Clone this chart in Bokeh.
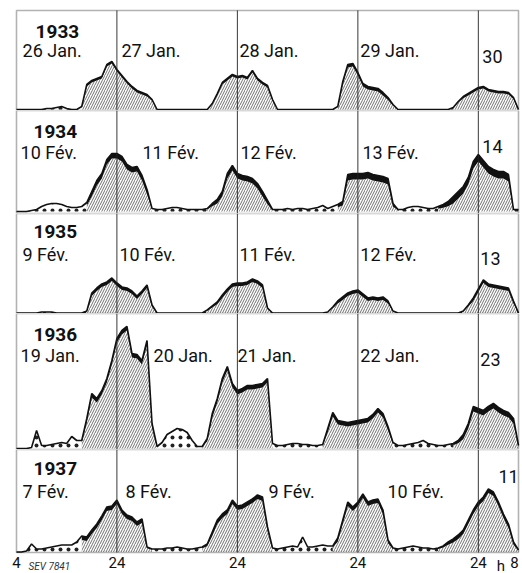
import numpy as np
from bokeh.plotting import figure
from bokeh.layouts import column
from bokeh.models import Range1d, Label, BoxAnnotation
from bokeh.core.properties import value
from bokeh.embed import file_html
from bokeh.resources import INLINE

# ---------------- data ----------------
hours = list(range(4, 105))  # 4h of day 1 .. 8h of day 5

load_1933 = [0, 0, 0, 0, 0, 0,
             1, 1, 2, 3, 1, 0, 0, 3, 25, 29, 31, 33, 45, 48, 40, 34, 28, 23, 19, 17, 15, 10, 0,
             0, 0, 0, 0, 0, 0, 0, 0, 0,
             0, 6, 16, 27, 31, 35, 33, 34, 32, 39, 31, 27, 24, 10, 0,
             0, 0, 0, 0, 0, 0, 0, 0, 0, 0, 0,
             3, 28, 45, 46, 37, 26, 23, 22, 21, 17, 12, 5, 0,
             0, 0, 0, 0, 0, 0, 0, 0, 0, 0,
             2, 8, 13, 16, 19, 22, 23, 20, 19, 18, 18, 17, 12, 0]

load_1934 = [0, 0, 0, 1, 2, 5, 7, 8, 8, 7, 5, 4, 4, 5, 9, 20, 31, 38, 52, 58, 58, 55, 47, 44, 45, 36, 22, 3,
             2, 2, 3, 4, 4, 3, 2, 2, 2, 2, 3, 8, 12, 20, 38, 46, 38, 36, 35, 33, 28, 20, 11, 2,
             2, 2, 3, 2, 3, 3, 2, 3, 4, 6, 3, 5, 7, 10, 37, 38, 38, 38, 39, 37, 36, 35, 33, 8, 2,
             2, 4, 5, 5, 4, 3, 3, 5, 7, 10, 15, 20, 25, 34, 50, 57, 51, 45, 42, 40, 40, 37, 2, 2]

load_1935 = [0, 0, 0, 0, 0, 1, 1, 1, 0, 0, 0, 0, 0, 0, 2, 20, 25, 29, 31, 35, 30, 26, 25, 22, 17, 22, 28, 8, 0,
             0, 0, 0, 0, 0, 0, 0, 0, 0,
             3, 7, 11, 18, 24, 29, 30, 30, 31, 34, 32, 28, 5, 0,
             0, 0, 0, 0, 0, 0, 0, 0, 0, 0,
             1, 6, 12, 16, 20, 22, 23, 19, 15, 16, 15, 16, 12, 2, 0,
             0, 0, 0, 0, 0, 0, 0, 0, 0, 0, 0, 0,
             2, 8, 15, 24, 33, 29, 28, 27, 26, 25, 12, 0]

load_1936 = [0, 0, 0, 1, 18, 3, 3, 4, 5, 6, 5, 12, 8, 8, 30, 55, 50, 58, 70, 88, 110, 118, 122, 95, 94, 88, 108, 25,
             2, 6, 14, 17, 20, 19, 16, 8, 2, 2, 10, 35, 50, 70, 82, 65, 58, 60, 63, 63, 64, 65, 70, 5,
             3, 3, 4, 5, 5, 4, 4, 3, 3, 4, 20, 36, 28, 27, 26, 27, 28, 29, 30, 34, 40, 35, 22, 6,
             3, 3, 4, 5, 6, 8, 5, 4, 3, 3, 4, 5, 8, 14, 25, 42, 40, 38, 42, 45, 41, 38, 36, 30, 3]

load_1937 = [0, 0, 1, 8, 3, 3, 4, 5, 6, 7, 7, 7, 10, 16, 15, 22, 28, 36, 45, 46, 52, 42, 37, 35, 30, 33, 5,
             3, 3, 3, 4, 4, 5, 4, 3, 3, 4, 5, 8, 20, 32, 38, 42, 52, 46, 47, 50, 53, 57, 55, 25, 4,
             3, 4, 5, 6, 5, 15, 5, 5, 6, 7, 6, 6, 14, 32, 50, 45, 50, 58, 50, 52, 53, 42, 12, 4,
             3, 4, 5, 6, 5, 4, 4, 3, 4, 6, 10, 13, 17, 22, 32, 42, 50, 55, 63, 60, 50, 38, 28, 10, 2]

# night-load periods (hatched) and thickness of the dark top band
humps_1933 = [(17, 32), (42, 56), (68, 80), (91, 104)]
humps_1934 = [(18, 31), (42, 55), (68, 80), (88, 103)]
humps_1935 = [(18, 32), (42, 55), (66, 80), (93, 104)]
humps_1936 = [(17, 32), (41, 55), (65, 79), (91, 104)]
humps_1937 = [(17, 31), (41, 55), (67, 79), (88, 104)]
band_1933 = [2, 2, 3, 2]
band_1934 = [5, 5, 6, 7]
band_1935 = [3, 3, 3, 3]
band_1936 = [4, 4, 4, 5]
band_1937 = [4, 4, 4, 4]

years = ["1933", "1934", "1935", "1936", "1937"]
day_labels = {
    "1933": ["26 Jan.", "27 Jan.", "28 Jan.", "29 Jan.", "30"],
    "1934": ["10 Fév.", "11 Fév.", "12 Fév.", "13 Fév.", "14"],
    "1935": ["9 Fév.", "10 Fév.", "11 Fév.", "12 Fév.", "13"],
    "1936": ["19 Jan.", "20 Jan.", "21 Jan.", "22 Jan.", "23"],
    "1937": ["7 Fév.", "8 Fév.", "9 Fév.", "10 Fév.", "11"],
}
midnights = [24, 48, 72, 96]
tick_hours = [4, 24, 48, 72, 96, 100.5, 103.2]
tick_labels = ["4", "24", "24", "24", "24", "h", "8"]
note_text = "SEV 7841"

# ---------------- layout (positions / styling) ----------------
panels = [
    ("1933", load_1933, humps_1933, band_1933, 100, (-1, 99), (7.8, 72),
     [(5.2, 49), (24.9, 49), (48.4, 49), (72.5, 49), (96.8, 47)]),
    ("1934", load_1934, humps_1934, band_1934, 103, (-2, 101), (7.4, 74),
     [(4.8, 49), (29.1, 49), (48.6, 49), (72.9, 49), (96.8, 59)]),
    ("1935", load_1935, humps_1935, band_1935, 100, (-0.5, 99.5), (7.4, 75),
     [(5.2, 48), (24.5, 48), (48.4, 48), (72.5, 48), (96.4, 48)]),
    ("1936", load_1936, humps_1936, band_1936, 136, (-1, 135), (7.4, 108),
     [(4.8, 83), (31.3, 83), (48.0, 83), (72.5, 83), (96.4, 83)]),
    ("1937", load_1937, humps_1937, band_1937, 103, (-0.5, 102.5), (7.4, 77),
     [(5.2, 50), (25.7, 50), (54.2, 50), (77.9, 50), (100.0, 69)]),
]

FONT = "Roboto"
PX_PER_H = 502 / 100.0
# every frame spans the full canvas width; the panel box runs from 4 h to 104 h
x_range = Range1d(4 - 16 / PX_PER_H, 104 + 4 / PX_PER_H)
x = np.array(hours, dtype=float)


def runs(mask):
    out, start = [], None
    for i, m in enumerate(mask):
        if m and start is None:
            start = i
        if not m and start is not None:
            out.append((start, i - 1))
            start = None
    if start is not None:
        out.append((start, len(mask) - 1))
    return out


figs = []
for k, (yr, load, humps, band, fh, yr_rng, ypos, dpos) in enumerate(panels):
    last = k == len(panels) - 1
    extra_top = 10 if k == 0 else 0
    extra_bottom = 21 if last else 0
    y0, y1 = yr_rng
    p = figure(width=522, height=fh + extra_top + extra_bottom,
               x_range=x_range, y_range=Range1d(y0 - extra_bottom, y1 + extra_top),
               x_axis_type=None, y_axis_type=None,
               toolbar_location=None, output_backend="svg", min_border=0)
    p.min_border_left = p.min_border_right = p.min_border_top = p.min_border_bottom = 0
    p.outline_line_color = None
    p.background_fill_color = "white"
    p.border_fill_color = "white"
    p.add_layout(BoxAnnotation(left=4, right=104, bottom=y0, top=y1,
                               fill_color=None, fill_alpha=0,
                               line_color="black", line_width=1.6))

    y = np.array(load, dtype=float)
    hump_mask = np.zeros(len(x), dtype=bool)
    base = y - 1.0
    for (s, e), b in zip(humps, band):
        m = (x >= s) & (x <= e)
        hump_mask |= m
        base = np.where(m, y - b * np.clip(y / 15.0, 0, 1), base)
    base = np.clip(base, 0, None)

    for a, b_ in runs(~hump_mask):
        a0, b0 = max(a - 1, 0), min(b_ + 1, len(x) - 1)
        p.varea(x=x[a0:b0 + 1], y1=0, y2=y[a0:b0 + 1], fill_color=None, fill_alpha=0,
                hatch_pattern=".", hatch_scale=8, hatch_weight=1.3, hatch_color="#222")
    for a, b_ in runs(hump_mask):
        p.varea(x=x[a:b_ + 1], y1=0, y2=base[a:b_ + 1], fill_color=None, fill_alpha=0,
                hatch_pattern="/", hatch_scale=5, hatch_weight=0.7, hatch_color="#333")
        p.varea(x=x[a:b_ + 1], y1=base[a:b_ + 1], y2=y[a:b_ + 1], fill_color="#111")
    p.line(x, y, line_color="#111", line_width=1.6)

    p.segment(x0=midnights, y0=y0, x1=midnights, y1=y1, line_color="#222", line_width=0.9)

    p.add_layout(Label(x=ypos[0], y=ypos[1], text=yr, text_font=FONT, text_font_size="19px",
                       text_font_style="bold", text_color="#111"))
    for (lx, ly), txt in zip(dpos, day_labels[yr]):
        p.add_layout(Label(x=lx, y=ly, text=txt, text_font=FONT, text_font_size="18px",
                           text_color="#111"))

    if last:
        p.text(x=tick_hours, y=y0 - 4, text=tick_labels,
               text_font=value(FONT), text_font_size="15px", text_color="#111",
               text_align="center", text_baseline="top")
        p.add_layout(Label(x=6.4, y=y0 - 8, text=note_text, text_font=FONT,
                           text_font_size="10px", text_font_style="italic",
                           text_baseline="top", text_color="#333"))
    figs.append(p)

layout = column(*figs, spacing=0)
open("out.html", "w").write(file_html(layout, INLINE))
